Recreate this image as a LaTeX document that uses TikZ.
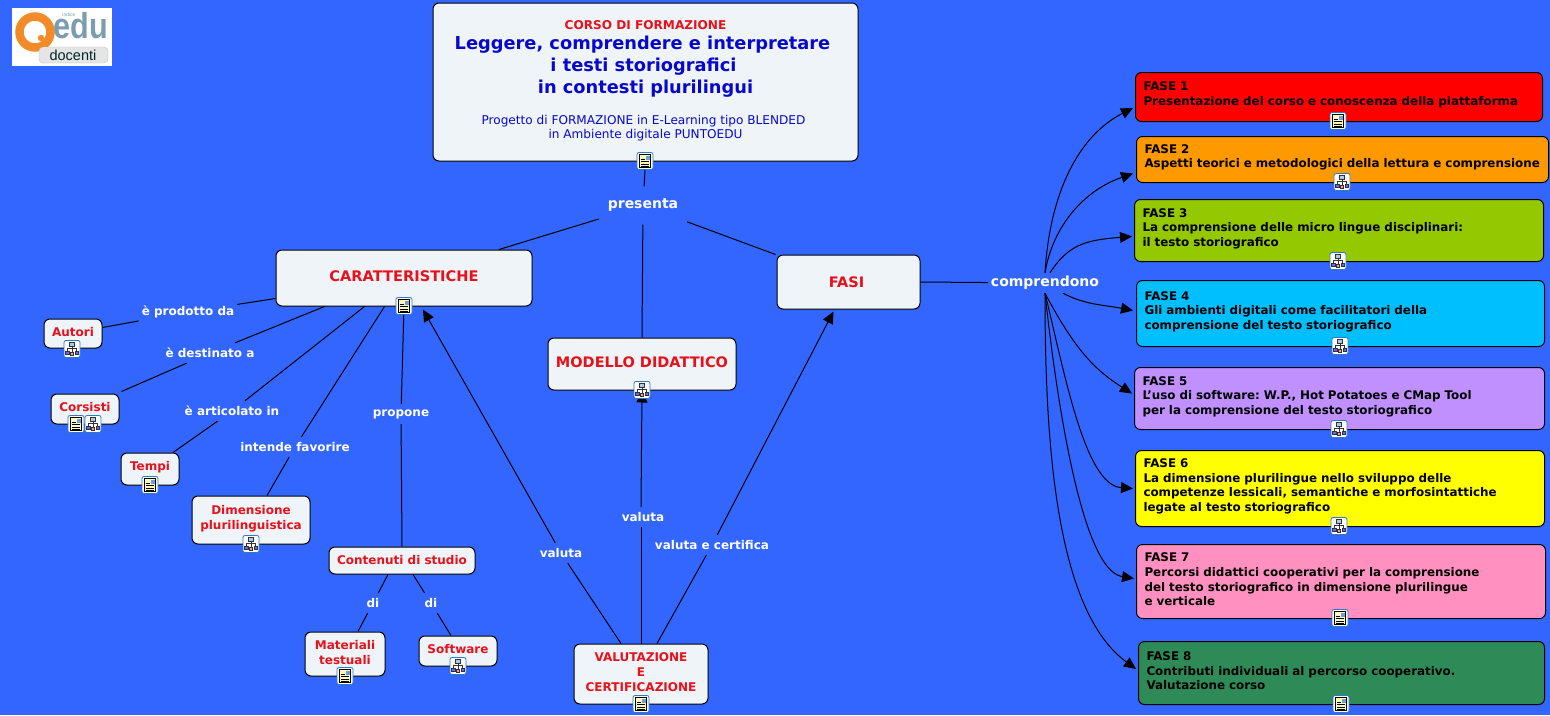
\documentclass[tikz,border=0pt]{standalone}
\usepackage{fontspec}
\setmainfont{DejaVu Sans}
\newfontfamily\logofont{Liberation Sans}
\usetikzlibrary{arrows.meta}
\definecolor{mapblue}{HTML}{3366FF}
\definecolor{boxfill}{HTML}{EEF4F7}
\definecolor{conceptred}{HTML}{E8101A}
\definecolor{titleblue}{HTML}{0808CC}
\definecolor{logogrey}{HTML}{7C9DAD}
\definecolor{logoorange}{HTML}{F28C28}
\definecolor{iconedge}{HTML}{2F78C4}
\definecolor{faseorange}{HTML}{FF9900}
\definecolor{faseyellow}{HTML}{FFFF00}
\definecolor{fasegreen}{HTML}{94C800}
\definecolor{fasecyan}{HTML}{00BFFF}
\definecolor{fasepurple}{HTML}{C090FF}
\definecolor{fasepink}{HTML}{FF90C0}
\definecolor{fasesea}{HTML}{2E8B57}
\newcommand{\fs}[2]{\fontsize{#1}{#2}\selectfont}
\newcommand{\lift}{\par\vspace{4pt}}
\newcommand{\nudge}[1]{\hspace*{#1}\mbox{}}
\tikzset{
	main/.style={draw=black, line width=1pt, fill=boxfill, rounded corners=6pt, align=center, text=conceptred, font=\fs{12}{15}\bfseries, inner sep=0pt},
	fase/.style={draw=black, line width=1pt, rounded corners=6pt, align=left, anchor=north west, text=black, font=\fs{11.9}{14.6}\bfseries, inner xsep=8pt, inner ysep=0pt},
	link/.style={text=white, font=\fs{12}{15}\bfseries, inner xsep=3pt, inner ysep=0pt, minimum height=20pt},
	conn/.style={draw=black, line width=1pt},
	arrow/.style={conn, -{Triangle[length=12pt,width=11pt]}},
	docicon/.pic={
		\draw[iconedge, fill=white, rounded corners=2pt, line width=.8pt] (-8,-8.5) rectangle (8,8.5);
		\draw[black, fill=yellow!25, line width=.7pt] (-5.5,-6.5) rectangle (5.5,6.5);
		\fill[iconedge!70] (.5,-5.5) rectangle (4.5,-1);
		\foreach \ly in {-2,.5,3,5}
			\draw[black, line width=.6pt] (-4,\ly) -- (\ifdim\ly pt<0pt -.5\else 4\fi,\ly);
	},
	mapicon/.pic={
		\draw[iconedge, fill=white, rounded corners=2pt, line width=.8pt] (-8,-8.5) rectangle (8,8.5);
		\draw[black!80, line width=.5pt] (0,-4) -- (0,3) (-4.5,3) -- (-4.5,-1) -- (4.5,-1) -- (4.5,3);
		\draw[black!80, fill=iconedge!40, line width=.5pt] (-2.5,-6.5) rectangle (2.5,-3);
		\draw[black!80, fill=blue!60, line width=.5pt] (-6.5,2) rectangle (-3,5.5);
		\draw[black!80, fill=red!40, line width=.5pt] (-1.5,3) rectangle (1.5,6);
		\draw[black!80, fill=blue!60, line width=.5pt] (3,2) rectangle (6.5,5.5);
	}
}
\begin{document}
\frenchspacing
\begin{tikzpicture}[x=1pt,y=-1pt]
	\useasboundingbox[fill=mapblue] (0,0) rectangle (1550,715);

	% logo
	\fill[white] (12,8) rectangle (112,66);
	\draw[logoorange, line width=8.5pt] (35,32) circle (15.5);
	\fill[logoorange] (41,38) circle (3.2);
	\draw[black!25, fill=black!10, rounded corners=4pt] (39,47) rectangle (108,63);
	\node[text=logogrey, font=\logofont\fs{36}{36}\bfseries, xscale=.85] (logoedu) at (81,26) {edu};
	\node[text=black!70!teal, font=\logofont\fs{14.5}{15}] (logodoc) at (73,55) {docenti};
	\node[text=logogrey, font=\logofont\fs{5}{6}, inner sep=0pt] (logoidx) at (69,15) {indice};

	% title and first level
	\node[main, minimum width=425pt, minimum height=158pt, text=titleblue] (corso) at (645.5,82)
		{\fs{12.1}{19}\textcolor{conceptred}{CORSO DI FORMAZIONE}\\[5pt]
		\fs{17.8}{22}Leggere, comprendere e interpretare\nudge{6pt}\\[4pt]
		\fs{17.8}{22}i testi storiografici\nudge{4pt}\\[3pt]
		\fs{17.8}{22}in contesti plurilingui\\[16pt]
		\fs{12.1}{15}\mdseries Progetto di FORMAZIONE in E-Learning tipo BLENDED\nudge{4pt}\\[-1pt]
		\fs{12.1}{15}\mdseries in Ambiente digitale PUNTOEDU\\[-10pt]};
	\node[link, font=\fs{14}{15}\bfseries, minimum width=88pt, minimum height=38pt] (presenta) at (643,205.5) {presenta};
	\node[main, font=\fs{14.6}{15}\bfseries, minimum width=256pt, minimum height=56pt] (caratt) at (404,278) {CARATTERISTICHE\\[-11pt]};
	\node[main, font=\fs{14.5}{15}\bfseries, minimum width=188pt, minimum height=52pt] (modello) at (642,364) {MODELLO DIDATTICO\\[-11pt]};
	\node[main, font=\fs{14.5}{15}\bfseries, minimum width=143pt, minimum height=54pt] (fasi) at (848.5,282) {FASI\hspace*{4pt}};

	% left branch
	\node[link] (prodotto) at (188,312) {è prodotto da};
	\node[link] (destinato) at (210,353) {è destinato a};
	\node[link] (articolato) at (232,411) {è articolato in};
	\node[link] (favorire) at (295,447) {intende favorire};
	\node[link] (propone) at (401,414) {propone};
	\node[main, minimum width=58pt, minimum height=29pt] (autori) at (73,333.5) {Autori\\[-12pt]};
	\node[main, minimum width=68pt, minimum height=30pt] (corsisti) at (85,409) {Corsisti\\[-11pt]};
	\node[main, minimum width=58pt, minimum height=32pt] (tempi) at (150,469) {Tempi\\[-9pt]};
	\node[main, minimum width=118pt, minimum height=48pt] (dimensione) at (251,520) {Dimensione\\plurilinguistica\\[-10pt]};
	\node[main, minimum width=146pt, minimum height=27pt] (contenuti) at (402,560.5) {Contenuti di studio};
	\node[link] (di1) at (373,603) {di};
	\node[link] (di2) at (431,603) {di};
	\node[main, minimum width=80pt, minimum height=44pt] (materiali) at (345,654) {Materiali\\testuali\\[-12pt]};
	\node[main, minimum width=78pt, minimum height=30pt] (software) at (458,651) {Software\\[-11pt]};

	% valutazione
	\node[main, minimum width=134pt, minimum height=60pt] (valutazione) at (641,674) {VALUTAZIONE\\E\\CERTIFICAZIONE\\[-11pt]};
	\node[link] (valuta1) at (561,553) {valuta};
	\node[link] (valuta2) at (643,517) {valuta};
	\node[link] (valuta3) at (712,545) {valuta e certifica};

	% fasi
	\node[link, font=\fs{14}{15}\bfseries, minimum height=20pt] (compr) at (1045,283) {comprendono};
	\node[fase, fill=red, text width=391pt, minimum height=49pt] (f1) at (1135,72) {FASE 1\\Presentazione del corso e conoscenza della piattaforma\lift};
	\node[fase, fill=faseorange, text width=396pt, minimum height=46pt] (f2) at (1136,136) {FASE 2\\\mbox{Aspetti teorici e metodologici della lettura e comprensione}\lift};
	\node[fase, fill=fasegreen, text width=393pt, minimum height=62pt] (f3) at (1134,199) {FASE 3\\La comprensione delle micro lingue disciplinari:\\il testo storiografico\lift};
	\node[fase, fill=fasecyan, text width=392pt, minimum height=66pt] (f4) at (1136,280) {FASE 4\\Gli ambienti digitali come facilitatori della\\comprensione del testo storiografico\lift};
	\node[fase, fill=fasepurple, text width=394pt, minimum height=62pt] (f5) at (1134,367) {FASE 5\\L’uso di software: W.P., Hot Potatoes e CMap Tool\\per la comprensione del testo storiografico\lift};
	\node[fase, fill=faseyellow, text width=393pt, minimum height=76pt] (f6) at (1135,450) {FASE 6\\La dimensione plurilingue nello sviluppo delle\\competenze lessicali, semantiche e morfosintattiche\\legate al testo storiografico\lift};
	\node[fase, fill=fasepink, text width=393pt, minimum height=74pt] (f7) at (1136,544) {FASE 7\\Percorsi didattici cooperativi per la comprensione\\del testo storiografico in dimensione plurilingue\\e verticale\lift};
	\node[fase, fill=fasesea, text width=390pt, minimum height=63pt] (f8) at (1138,641) {FASE 8\\Contributi individuali al percorso cooperativo.\\Valutazione corso\lift};

	% connectors
	\draw[conn] (corso.south) -- (presenta);
	\draw[conn] (presenta) -- ([xshift=95pt]caratt.north);
	\draw[conn] (presenta) -- (modello.north);
	\draw[conn] (presenta) -- ([xshift=-1pt]fasi.north west);
	\draw[conn] ([yshift=8pt]caratt.south west) -- (prodotto);
	\draw[conn] (prodotto) -- ([yshift=6pt]autori.east);
	\draw[conn] ([xshift=49pt]caratt.south west) -- (destinato);
	\draw[conn] (destinato) -- ([xshift=71pt,yshift=2pt]corsisti.north west);
	\draw[conn] ([xshift=89pt]caratt.south west) -- (articolato);
	\draw[conn] (articolato) -- ([xshift=23pt]tempi.north);
	\draw[conn] ([xshift=109pt]caratt.south west) -- (favorire);
	\draw[conn] (favorire) -- ([xshift=16pt]dimensione.north);
	\draw[conn] (caratt.south) -- (propone);
	\draw[conn] (propone) -- (contenuti.north);
	\draw[conn] ([xshift=-14pt]contenuti.south) -- (di1);
	\draw[conn] (di1) -- ([xshift=13pt]materiali.north);
	\draw[conn] ([xshift=11pt]contenuti.south) -- (di2);
	\draw[conn] (di2) -- ([xshift=-7pt]software.north);
	\draw[conn] ([xshift=-20pt]valutazione.north) -- (valuta1);
	\draw[arrow] (valuta1) -- ([xshift=19pt,yshift=-3pt]caratt.south);
	\draw[conn] (valutazione.north) -- (valutazione.north |- valuta2.south);
	\draw[arrow] (valutazione.north |- valuta2.north) -- (modello.south);
	\draw[conn] ([xshift=16pt]valutazione.north) -- (valuta3);
	\draw[arrow] (valuta3) -- ([xshift=-15pt,yshift=-2pt]fasi.south);
	\draw[conn] (fasi.east) -- (compr);
	\draw[arrow] (compr.north) .. controls (1050,190) and (1080,135) .. ([xshift=-2pt,yshift=-11pt]f1.west);
	\draw[arrow] (compr.north) .. controls (1053,225) and (1085,190) .. ([xshift=-3pt,yshift=-14pt]f2.west);
	\draw[arrow] ([xshift=5pt]compr.north) .. controls (1068,245) and (1085,240) .. ([xshift=-2pt,yshift=-6pt]f3.west);
	\draw[arrow] ([xshift=18pt]compr.south) .. controls (1085,305) and (1105,305) .. ([xshift=-3pt,yshift=3pt]f4.west);
	\draw[arrow] (compr.south) .. controls (1075,350) and (1095,370) .. ([xshift=-2pt,yshift=5pt]f5.west);
	\draw[arrow] (compr.south) .. controls (1065,375) and (1085,485) .. ([xshift=-2pt]f6.west);
	\draw[arrow] (compr.south) .. controls (1055,385) and (1080,570) .. ([xshift=-2pt,yshift=3pt]f7.west);
	\draw[arrow] (compr.south) .. controls (1045,440) and (1055,610) .. ([xshift=-2pt,yshift=4pt]f8.west);

	% icons
	\pic at (645,161) {docicon};
	\pic at (404,306) {docicon};
	\pic at (72,349) {mapicon};
	\pic at (76,424) {docicon};
	\pic at (93,424) {mapicon};
	\pic at (150,485) {docicon};
	\pic at (251,544) {mapicon};
	\pic at (345,676) {docicon};
	\pic at (458,666) {mapicon};
	\pic at (641,704) {docicon};
	\pic at (642,390) {mapicon};
	\pic at (1338,121) {docicon};
	\pic at (1342,182) {mapicon};
	\pic at (1338,261) {mapicon};
	\pic at (1340,346) {mapicon};
	\pic at (1339,429) {mapicon};
	\pic at (1339,526) {mapicon};
	\pic at (1340,618) {docicon};
	\pic at (1341,704) {docicon};
\end{tikzpicture}
\end{document}
